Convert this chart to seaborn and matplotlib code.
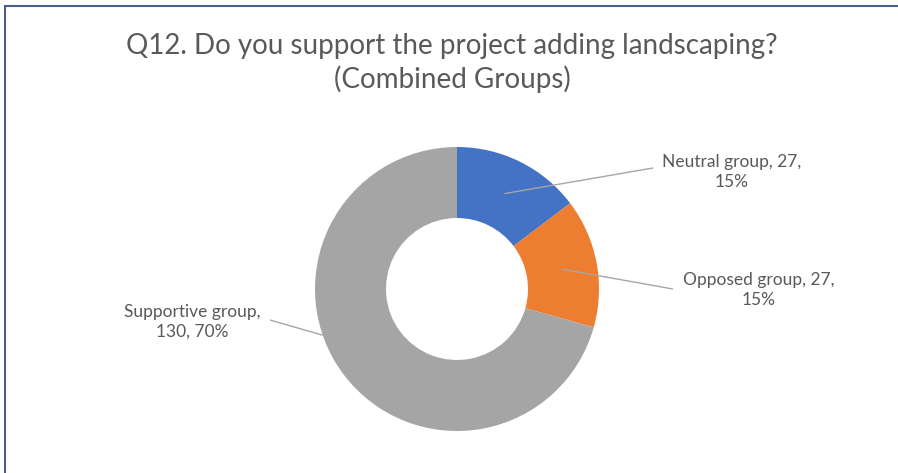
import matplotlib
matplotlib.use("Agg")
import matplotlib.pyplot as plt
import seaborn as sns
import numpy as np
from matplotlib.lines import Line2D

# data
groups = ["Neutral group", "Opposed group", "Supportive group"]
counts = [27, 27, 130]
pct_labels = ["15%", "15%", "70%"]
colors = ["#4472C4", "#ED7D31", "#A5A5A5"]

sns.set_theme(style="white")
plt.rcParams['font.family'] = ['Lato', 'DejaVu Sans']

W, H = 898, 473
fig = plt.figure(figsize=(W / 100, H / 100), dpi=100)
ax = fig.add_axes([0, 0, 1, 1])

cx, cy, r_out = 457, H - 289, 142
ring = 0.5
wedges, _ = ax.pie(counts, colors=colors, startangle=90, counterclock=False,
                   center=(cx, cy), radius=r_out, frame=True,
                   wedgeprops=dict(width=r_out * ring, edgecolor='none'))
ax.set_xlim(0, W)
ax.set_ylim(0, H)
ax.set_aspect('equal')
ax.axis('off')

text_col = "#595959"
line_col = "#A6A6A6"

# label layout: (text center x, text center y from top, leader end x, end y from top)
label_pos = [(732, 172, 653, 168), (759, 290, 673, 289), (192, 322, 270, 320)]
label_text = [f"{groups[0]}, {counts[0]},\n{pct_labels[0]}",
              f"{groups[1]}, {counts[1]},\n{pct_labels[1]}",
              f"{groups[2]},\n{counts[2]}, {pct_labels[2]}"]

for i, w in enumerate(wedges):
    tx, ty, ex, ey = label_pos[i]
    ang = np.deg2rad((w.theta1 + w.theta2) / 2)
    rr = r_out * (1 - ring / 2)
    if i == 2:
        ang = np.deg2rad(199)
        rr = r_out
    sx, sy = cx + rr * np.cos(ang), cy + rr * np.sin(ang)
    ax.plot([sx, ex], [sy, H - ey], color=line_col, lw=1, solid_capstyle='butt')
    ax.text(tx, H - ty, label_text[i], ha='center', va='center', fontsize=12.5,
            color=text_col, linespacing=1.3)

fig.text(452 / W, 1 - 63 / H, "Q12. Do you support the project adding landscaping?\n(Combined Groups)",
         ha='center', va='center', fontsize=20, color=text_col, linespacing=1.32)

# chart area border (left and top visible)
bcol = "#4A5E86"
fig.add_artist(Line2D([5 / W, 5 / W], [0, 1 - 6 / H], color=bcol, lw=1.5, transform=fig.transFigure))
fig.add_artist(Line2D([5 / W, 1], [1 - 6 / H, 1 - 6 / H], color=bcol, lw=1.5, transform=fig.transFigure))

fig.savefig("out.png", dpi=100, facecolor="white")
